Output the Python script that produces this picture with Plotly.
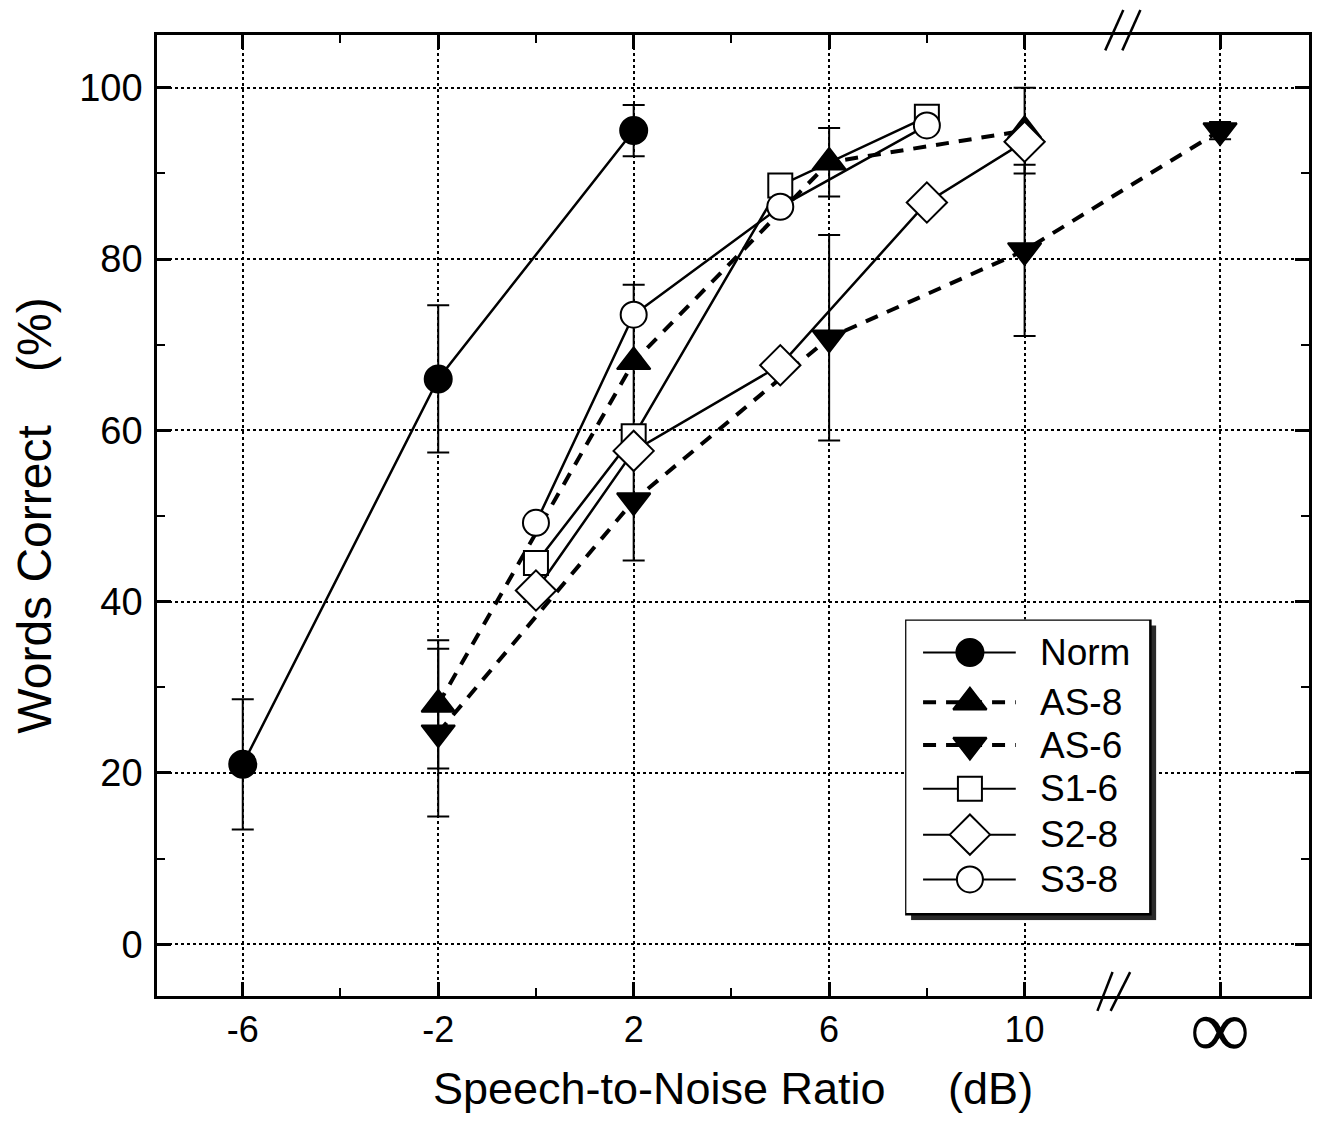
import plotly.graph_objects as go

# ---------------- data (x in dB; 14 stands for "infinity") ----------------
norm_x = [-6, -2, 2]
norm_y = [21, 66, 95]
norm_err = [7.6, 8.6, 3]

as8_x = [-2, 2, 6, 10]
as8_y = [28, 68, 91.3, 95]
as8_err = [7.5, 9, 4, 5]

as6_x = [-2, 2, 6, 10, 14]
as6_y = [24.7, 51.8, 70.8, 81, 95]
as6_err = [9.8, 7, 12, 10, 1]

s16_x = [0, 2, 5, 8]
s16_y = [44.5, 59.3, 88.6, 96.6]

s28_x = [0, 2, 5, 8, 10]
s28_y = [41.3, 57.6, 67.6, 86.6, 93.7]

s38_x = [0, 2, 5, 8]
s38_y = [49.2, 73.5, 86.1, 95.6]

series_names = ["Norm", "AS-8", "AS-6", "S1-6", "S2-8", "S3-8"]

x_tickvals = [-6, -2, 2, 6, 10, 14]
x_ticktext = ["-6", "-2", "2", "6", "10", ""]
inf_label = "∞"
x_minor = [-4, 0, 4, 8]
y_tickvals = [0, 20, 40, 60, 80, 100]
y_minor = [10, 30, 50, 70, 90]

# ---------------- styling ----------------
FONT = "Liberation Sans, Arial, sans-serif"
DASH = "13px,10px"
styles = {
    "Norm": dict(symbol="circle", size=27, fill="black", dash="solid", lw=2.5),
    "AS-8": dict(symbol="triangle-up", size=29, fill="black", dash=DASH, lw=4),
    "AS-6": dict(symbol="triangle-down", size=29, fill="black", dash=DASH, lw=4),
    "S1-6": dict(symbol="square", size=24, fill="white", dash="solid", lw=2.5),
    "S2-8": dict(symbol="diamond", size=31, fill="white", dash="solid", lw=2.5),
    "S3-8": dict(symbol="circle", size=26, fill="white", dash="solid", lw=2.5),
}
data = {
    "Norm": (norm_x, norm_y, norm_err),
    "AS-8": (as8_x, as8_y, as8_err),
    "AS-6": (as6_x, as6_y, as6_err),
    "S1-6": (s16_x, s16_y, None),
    "S2-8": (s28_x, s28_y, None),
    "S3-8": (s38_x, s38_y, None),
}

fig = go.Figure()

for name in series_names:
    xs, ys, es = data[name]
    st = styles[name]
    kw = {}
    if es is not None:
        kw["error_y"] = dict(type="data", array=es, visible=True, color="black",
                             thickness=2, width=11)
    fig.add_trace(go.Scatter(
        x=xs, y=ys, name=name, mode="lines+markers", showlegend=False,
        line=dict(color="black", width=st["lw"], dash=st["dash"]),
        marker=dict(symbol=st["symbol"], size=st["size"], color=st["fill"],
                    line=dict(color="black", width=2)),
        **kw))

# ---------------- custom legend in its own small subplot (units = px) ----------------
row_y = [33, 83, 126, 170, 216, 261]
for name, ry in zip(series_names, row_y):
    st = styles[name]
    fig.add_trace(go.Scatter(
        x=[18, 111], y=[ry, ry], mode="lines", showlegend=False,
        xaxis="x2", yaxis="y2", hoverinfo="skip",
        line=dict(color="black", width=2 if st["dash"] == "solid" else 4, dash=st["dash"])))
    fig.add_trace(go.Scatter(
        x=[65], y=[ry], mode="markers", showlegend=False,
        xaxis="x2", yaxis="y2", hoverinfo="skip",
        marker=dict(symbol=st["symbol"], size=st["size"], color=st["fill"], opacity=1,
                    line=dict(color="black", width=2))))
    fig.add_annotation(x=133, y=ry, xref="x2", yref="y2", text=name, showarrow=False,
                       xanchor="left", yanchor="middle",
                       font=dict(family=FONT, size=37, color="black"))

fig.add_shape(type="rect", xref="x2", yref="y2", x0=6, x1=252, y0=6, y1=302,
              fillcolor="#2a2a2a", line=dict(width=0), layer="below")
fig.add_shape(type="rect", xref="x2", yref="y2", x0=0, x1=246, y0=0, y1=296,
              fillcolor="white", line=dict(color="black", width=2.5), layer="below")

axis_common = dict(showline=True, linecolor="black", linewidth=2.5, mirror="ticks",
                   ticks="inside", tickcolor="black", tickwidth=2.5, ticklen=14,
                   showgrid=True, gridcolor="black", griddash="dot", gridwidth=1.5,
                   zeroline=False)

fig.update_layout(
    xaxis=dict(**axis_common, range=[-7.755, 15.82], tickmode="array",
               tickvals=x_tickvals, ticktext=x_ticktext,
               tickfont=dict(family=FONT, size=36, color="black"),
               minor=dict(tickmode="array", tickvals=x_minor, ticks="inside", ticklen=8,
                          tickwidth=2, tickcolor="black", showgrid=False),
               title=dict(text="Speech-to-Noise Ratio     (dB)",
                          font=dict(family=FONT, size=45, color="black"), standoff=24)),
    yaxis=dict(**axis_common, range=[-6.05, 106.16], tickmode="array",
               tickvals=y_tickvals, ticklabelstandoff=4,
               tickfont=dict(family=FONT, size=38, color="black"),
               minor=dict(tickmode="array", tickvals=y_minor, ticks="inside", ticklen=8,
                          tickwidth=2, tickcolor="black", showgrid=False),
               title=dict(text="Words Correct    (%)",
                          font=dict(family=FONT, size=48, color="black"), standoff=20)),
    xaxis2=dict(domain=[0.6494, 0.8675], range=[0, 252], anchor="y2", visible=False,
                showgrid=False, zeroline=False, fixedrange=True),
    yaxis2=dict(domain=[0.0788, 0.3917], range=[302, 0], anchor="x2", visible=False,
                showgrid=False, zeroline=False, fixedrange=True),
)

# infinity label under x = 14
fig.add_annotation(x=14, y=-0.03, xref="x", yref="paper", text=inf_label, showarrow=False,
                   xanchor="center", yanchor="middle",
                   font=dict(family="Noto Sans, DejaVu Sans", size=84, color="black", weight=300))

# axis break marks
for x0, x1 in [(11.65, 12.02), (12.0, 12.37)]:
    fig.add_shape(type="line", xref="x", yref="paper", x0=x0, x1=x1, y0=0.984, y1=1.026,
                  line=dict(color="black", width=2.5), layer="above")
for x0, x1 in [(11.49, 11.80), (11.76, 12.16)]:
    fig.add_shape(type="line", xref="x", yref="paper", x0=x0, x1=x1, y0=-0.0155, y1=0.0249,
                  line=dict(color="black", width=2.5), layer="above")

fig.update_layout(
    width=1316, height=1109,
    margin=dict(l=149, r=12, t=27, b=117),
    paper_bgcolor="white", plot_bgcolor="white",
    font=dict(family=FONT, color="black"),
    showlegend=False,
)

fig.write_html("out.html")
